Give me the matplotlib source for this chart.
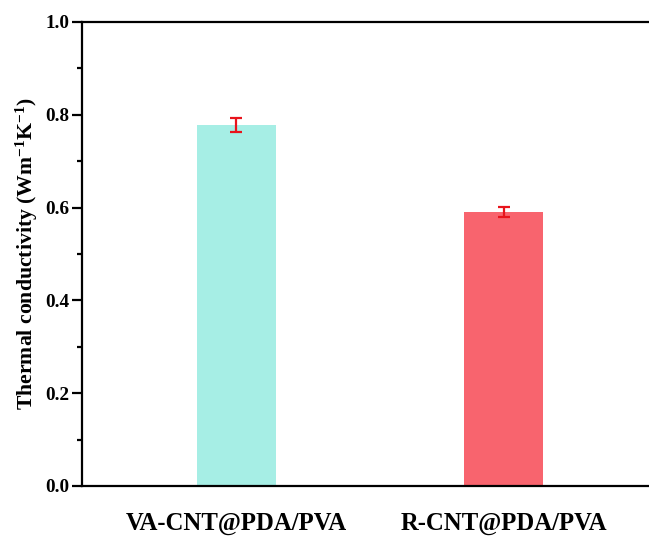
import matplotlib
matplotlib.use("Agg")
import matplotlib.pyplot as plt
from matplotlib.ticker import MultipleLocator

categories = ["VA-CNT@PDA/PVA", "R-CNT@PDA/PVA"]
values = [0.778, 0.590]
errors = [0.015, 0.011]
colors = ["#A6EEE5", "#F8646E"]

plt.rcParams['font.family'] = ['Liberation Serif', 'DejaVu Serif']
plt.rcParams['font.weight'] = 'bold'
plt.rcParams['mathtext.fontset'] = 'custom'
plt.rcParams['mathtext.rm'] = 'Liberation Serif:bold'
plt.rcParams['mathtext.bf'] = 'Liberation Serif:bold'
plt.rcParams['mathtext.it'] = 'Liberation Serif:bold'

fig = plt.figure(figsize=(6.49, 5.37), dpi=100)
W, H = 649, 537
left, right, top, bottom = 82, 658, 22, 486
ax = fig.add_axes([left / W, 1 - bottom / H, (right - left) / W, (bottom - top) / H])

x = [1, 2]
ax.bar(x, values, width=0.295, color=colors, zorder=2)
ax.errorbar(x, values, yerr=errors, fmt='none', ecolor='#E8141C', elinewidth=1.6,
            capsize=4.5, capthick=1.6, zorder=3)

ax.set_xlim(0.425, 2.575)
ax.set_ylim(0, 1.0)
ax.set_xticks(x)
ax.set_xticklabels(categories, fontsize=17.8, fontweight='bold')
ax.tick_params(axis='x', length=0, pad=18.5)
ax.yaxis.set_major_locator(MultipleLocator(0.2))
ax.yaxis.set_minor_locator(MultipleLocator(0.1))
ax.tick_params(axis='y', which='major', direction='out', length=7, width=1.6, labelsize=13.8, pad=2)
ax.tick_params(axis='y', which='minor', direction='out', length=3.5, width=1.6)
ax.set_yticklabels([f"{v:.1f}" for v in ax.get_yticks()], fontweight='bold')
for s in ['left', 'bottom', 'top', 'right']:
    ax.spines[s].set_linewidth(1.6)

ax.set_ylabel(r'Thermal conductivity (Wm$^{-1}$K$^{-1}$)', fontsize=15.7, fontweight='bold', labelpad=4)

fig.savefig("out.png", dpi=100)
